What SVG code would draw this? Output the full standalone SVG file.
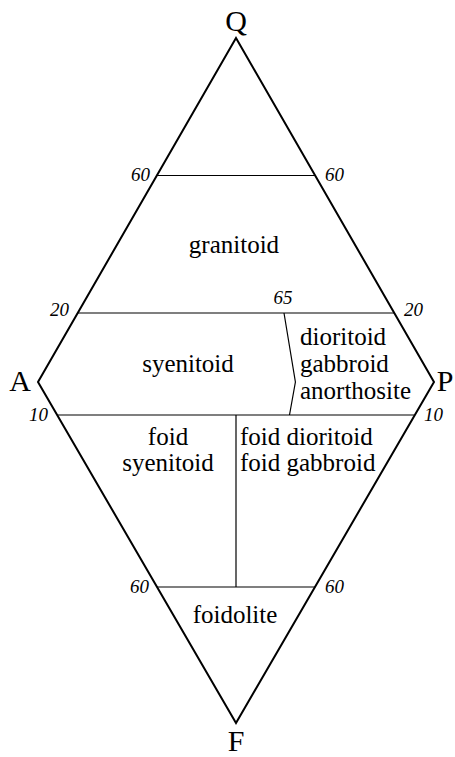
<svg xmlns="http://www.w3.org/2000/svg" width="455" height="757" viewBox="0 0 455 757">
<style>
.edge{fill:none;stroke:#000;stroke-width:2;stroke-linejoin:miter}
.div{fill:none;stroke:#000;stroke-width:1.2}
text{font-family:'Liberation Serif',Tinos,'Times New Roman',Times,'DejaVu Serif',serif;fill:#000}
.v{font-size:30px;text-anchor:middle}
.n{font-size:19px;font-style:italic}
.t{font-size:25px}
.c{text-anchor:middle}
.e{text-anchor:end}
</style>
<rect width="455" height="757" fill="#fff"/>
<g id="connectors">
<polygon class="edge" points="236,38 434,382 236,723 38,382"/>
<line class="div" x1="157" y1="175.5" x2="315" y2="175.5"/>
<line class="div" x1="78" y1="313" x2="394" y2="313"/>
<polyline class="div" points="284,313 295.4,382 289.5,415"/>
<line class="div" x1="58" y1="415" x2="414" y2="415"/>
<line class="div" x1="236" y1="415" x2="236" y2="587"/>
<line class="div" x1="157" y1="587" x2="315" y2="587"/>
</g>
<g id="vertex-Q"><text class="v" x="236" y="31" font-family="Liberation Serif">Q</text></g>
<g id="vertex-A"><text class="v" x="20" y="391" font-family="Liberation Serif">A</text></g>
<g id="vertex-P"><text class="v" x="445" y="391" font-family="Liberation Serif">P</text></g>
<g id="vertex-F"><text class="v" x="236" y="751" font-family="Liberation Serif">F</text></g>
<g id="ticks">
<text class="n e" x="150" y="181">60</text>
<text class="n" x="325" y="181">60</text>
<text class="n e" x="69" y="316">20</text>
<text class="n c" x="283" y="304">65</text>
<text class="n" x="404" y="316">20</text>
<text class="n e" x="48" y="421">10</text>
<text class="n" x="424" y="421">10</text>
<text class="n e" x="149" y="593">60</text>
<text class="n" x="325" y="593">60</text>
</g>
<g id="field-granitoid"><text class="t c" x="234" y="253">granitoid</text></g>
<g id="field-syenitoid"><text class="t c" x="188" y="372">syenitoid</text></g>
<g id="field-dioritoid"><text class="t" x="300" y="345">dioritoid</text><text class="t" x="300" y="372">gabbroid</text><text class="t" x="300" y="399">anorthosite</text></g>
<g id="field-foid-syenitoid"><text class="t c" x="168" y="445">foid</text><text class="t c" x="168" y="471">syenitoid</text></g>
<g id="field-foid-dioritoid"><text class="t" x="240" y="445">foid dioritoid</text><text class="t" x="240" y="471">foid gabbroid</text></g>
<g id="field-foidolite"><text class="t c" x="235" y="623">foidolite</text></g>
</svg>
